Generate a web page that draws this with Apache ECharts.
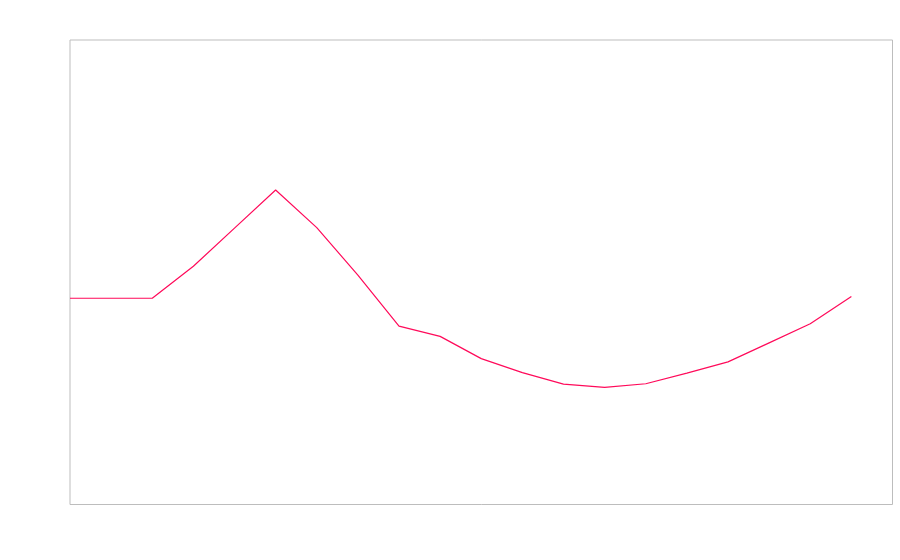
<!DOCTYPE html>
<html>
<head>
<meta charset="utf-8">
<script src="https://cdn.jsdelivr.net/npm/echarts@6/dist/echarts.min.js"></script>
<style>html,body{margin:0;padding:0;background:#fff}#c{width:900px;height:560px}</style>
</head>
<body>
<div id="c"></div>
<script>
const categories = ['0','1','2','3','4','5','6','7','8','9','10','11','12','13','14','15','16','17','18','19','20'];
const values = [44.4,44.4,44.4,51.3,59.5,67.7,59.6,49.4,38.4,36.2,31.4,28.4,25.9,25.2,26.0,28.3,30.7,34.8,38.9,44.8,null];

const chart = echarts.init(document.getElementById('c'), null, {renderer:'canvas'});
chart.setOption({
  animation: false,
  backgroundColor: '#fff',
  grid: {left:70, top:40, right:7.5, bottom:55.5, show:true, borderColor:'#bdbdbd', borderWidth:1, backgroundColor:'transparent'},
  xAxis: {type:'category', data: categories, boundaryGap:false,
    axisLine:{show:false}, axisTick:{show:false}, axisLabel:{show:false}, splitLine:{show:false}},
  yAxis: {type:'value', min:0, max:100,
    axisLine:{show:false}, axisTick:{show:false}, axisLabel:{show:false}, splitLine:{show:false}},
  series: [{type:'line', data: values, showSymbol:false, symbol:'none',
    lineStyle:{color:'#ff0a5a', width:1.2}, itemStyle:{color:'#ff0a5a'}}]
});
</script>
</body>
</html>
